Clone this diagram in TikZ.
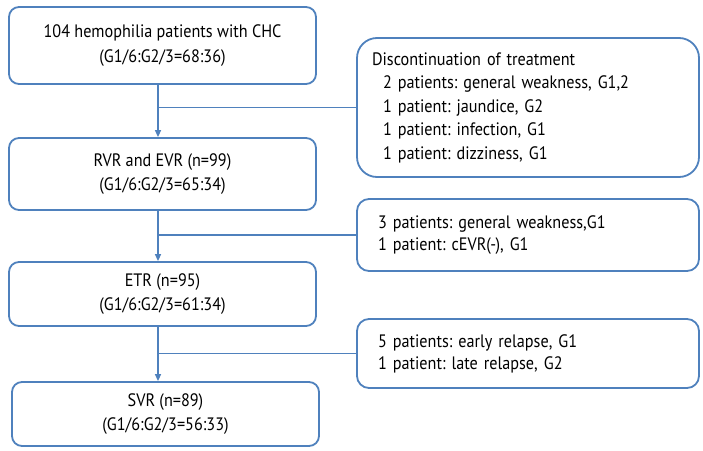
\documentclass[tikz,border=0pt]{standalone}
\usepackage{fontspec}
\setmainfont{PT Sans}[FakeStretch=0.9]
\usetikzlibrary{arrows.meta}
\definecolor{FlowBlue}{RGB}{79, 129, 189}
\frenchspacing

\begin{document}
\begin{tikzpicture}[x=1pt, y=-1pt, >={Triangle[length=7pt, width=6pt]},
    mainbox/.style={draw=FlowBlue, line width=1.8pt, rounded corners=10pt, minimum width=307pt, align=center, font=\fontsize{18}{24.5}\selectfont},
    sidebox/.style={draw=FlowBlue, line width=1.8pt, minimum width=342pt, text width=300pt, align=left, font=\fontsize{18}{22}\selectfont},
    flow/.style={FlowBlue, line width=1.5pt}]
          \useasboundingbox (0,0) rectangle (703,450);
          \node[mainbox, minimum height=77pt] (cohort) at (162.5, 45.5) {104 hemophilia patients with CHC\\(G1/6:G2/3=68:36)};
          \node[mainbox, minimum height=72pt] (rvr) at (162.5, 174) {RVR and EVR (n=99)\\(G1/6:G2/3=65:34)};
          \node[mainbox, minimum height=64pt] (etr) at (162.5, 294) {ETR (n=95)\\(G1/6:G2/3=61:34)};
          \node[mainbox, minimum height=64pt] (svr) at (165.5, 414) {SVR (n=89)\\(G1/6:G2/3=56:33)};
          \node[sidebox, rounded corners=20pt, minimum height=139pt, text width=312pt, font=\fontsize{18}{23.5}\selectfont] (stop) at (528, 107.5) {Discontinuation of treatment\\
            \hspace*{11pt}2 patients: general weakness, G1,2\\
            \hspace*{11pt}1 patient: jaundice, G2\\
            \hspace*{11pt}1 patient: infection, G1\\
            \hspace*{11pt}1 patient: dizziness, G1};
          \node[sidebox, rounded corners=12pt, minimum height=72pt] (nonresp) at (528, 235) {3 patients: general weakness,G1\\1 patient: cEVR(-), G1};
          \node[sidebox, rounded corners=12pt, minimum height=69pt] (relapse) at (528, 353.5) {5 patients: early relapse, G1\\1 patient: late relapse, G2};
          \coordinate (spine) at (158, 0);
          \draw[flow, ->] (cohort.south -| spine) -- (rvr.north -| spine);
          \draw[flow, ->] (rvr.south -| spine) -- (etr.north -| spine);
          \draw[flow, ->] (etr.south -| spine) -- (svr.north -| spine);
          \draw[flow] (stop.west) -- (stop.west -| spine);
          \draw[flow] (nonresp.west) -- (nonresp.west -| spine);
          \draw[flow] (relapse.west) -- (relapse.west -| spine);
        \end{tikzpicture}
\end{document}
